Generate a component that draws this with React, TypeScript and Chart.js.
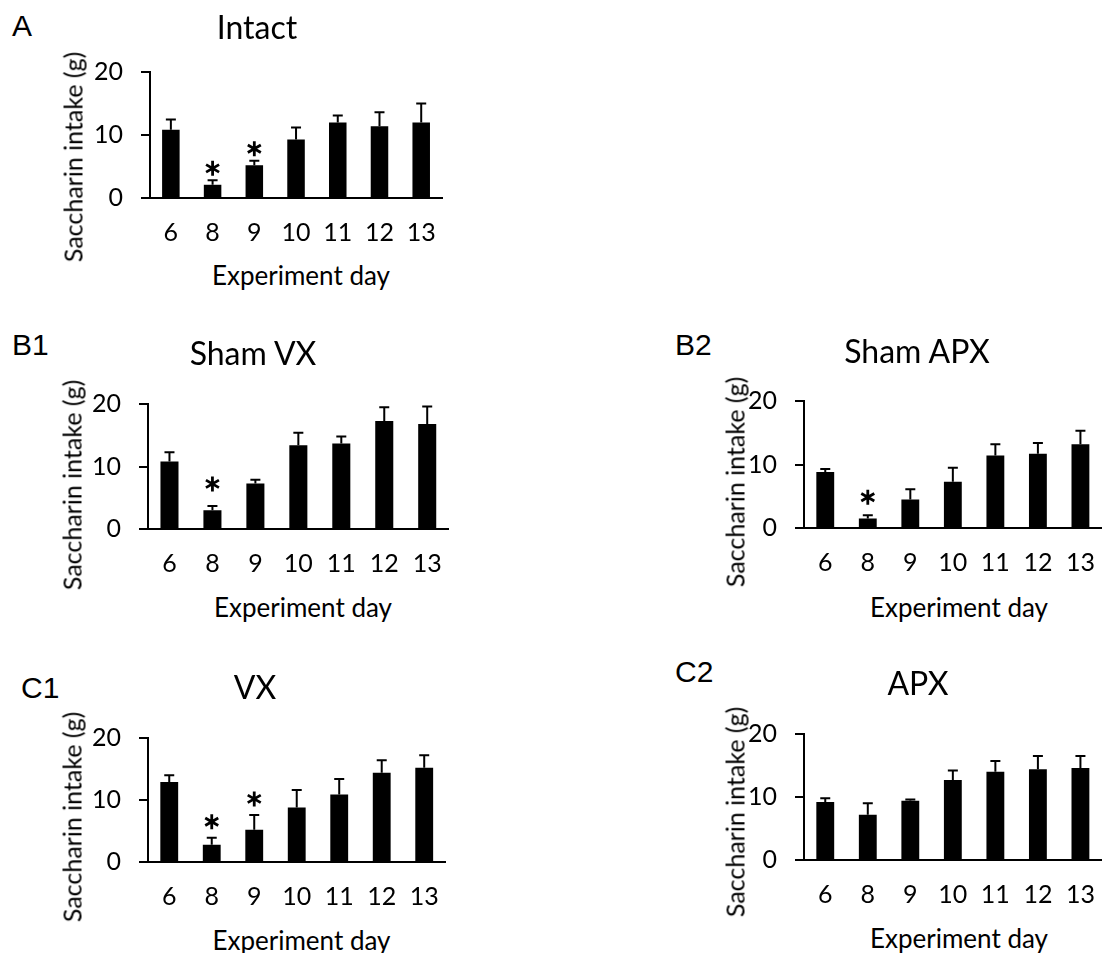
import React, { useEffect, useRef } from "react";
import { Chart, registerables } from "chart.js";

Chart.register(...registerables);

// ---------- data ----------
const days = ["6", "8", "9", "10", "11", "12", "13"];
const yMin = 0;
const yMax = 20;
const yStep = 10;

const intactMean = [10.85, 2.1, 5.2, 9.3, 12.0, 11.4, 12.0];
const intactSem = [1.6, 0.7, 0.7, 1.9, 1.1, 2.2, 3.0];
const intactSig = [false, true, true, false, false, false, false];

const shamVxMean = [10.8, 3.0, 7.3, 13.4, 13.7, 17.3, 16.8];
const shamVxSem = [1.5, 0.7, 0.6, 2.0, 1.1, 2.2, 2.8];
const shamVxSig = [false, true, false, false, false, false, false];

const shamApxMean = [8.8, 1.5, 4.5, 7.3, 11.4, 11.7, 13.2];
const shamApxSem = [0.5, 0.5, 1.6, 2.2, 1.8, 1.7, 2.1];
const shamApxSig = [false, true, false, false, false, false, false];

const vxMean = [12.9, 2.8, 5.2, 8.8, 10.9, 14.4, 15.2];
const vxSem = [1.1, 1.1, 2.4, 2.8, 2.5, 2.0, 2.0];
const vxSig = [false, true, true, false, false, false, false];

const apxMean = [9.2, 7.2, 9.4, 12.7, 14.0, 14.4, 14.6];
const apxSem = [0.6, 1.8, 0.2, 1.5, 1.7, 2.1, 1.9];
const apxSig = [false, false, false, false, false, false, false];

const yAxisTitle = "Saccharin intake (g)";
const xAxisTitle = "Experiment day";

// ---------- layout ----------
type Box = { left: number; right: number; top: number; bottom: number };
type PanelDef = {
  letter: string;
  title: string;
  mean: number[];
  sem: number[];
  sig: boolean[];
  area: Box;
  letterX: number;
  letterY: number;
  titleX: number;
  titleY: number;
  yTitleX: number;
  yTitleY: number;
  xTitleY: number;
  starGap: number;
  padRight: number;
};

const panels: PanelDef[] = [
  {
    letter: "A", title: "Intact", mean: intactMean, sem: intactSem, sig: intactSig,
    area: { left: 150, right: 452, top: 72, bottom: 198 },
    letterX: 12, letterY: 26, titleX: 257, titleY: 27,
    yTitleX: 73, yTitleY: 157, xTitleY: 275, starGap: 12, padRight: 4,
  },
  {
    letter: "B1", title: "Sham VX", mean: shamVxMean, sem: shamVxSem, sig: shamVxSig,
    area: { left: 148, right: 458, top: 404, bottom: 529 },
    letterX: 12, letterY: 345, titleX: 253, titleY: 353,
    yTitleX: 72, yTitleY: 485, xTitleY: 607, starGap: 22, padRight: 4,
  },
  {
    letter: "B2", title: "Sham APX", mean: shamApxMean, sem: shamApxSem, sig: shamApxSig,
    area: { left: 804, right: 1114, top: 401, bottom: 528 },
    letterX: 675, letterY: 345, titleX: 917, titleY: 351,
    yTitleX: 735, yTitleY: 482, xTitleY: 607, starGap: 18, padRight: 1,
  },
  {
    letter: "C1", title: "VX", mean: vxMean, sem: vxSem, sig: vxSig,
    area: { left: 148, right: 455, top: 738, bottom: 862 },
    letterX: 21, letterY: 688, titleX: 255, titleY: 687,
    yTitleX: 72, yTitleY: 817, xTitleY: 940, starGap: 16, padRight: 4,
  },
  {
    letter: "C2", title: "APX", mean: apxMean, sem: apxSem, sig: apxSig,
    area: { left: 804, right: 1114, top: 734, bottom: 860 },
    letterX: 675, letterY: 672, titleX: 918, titleY: 683,
    yTitleX: 735, yTitleY: 812, xTitleY: 938, starGap: 16, padRight: 1,
  },
];

const FONT = "Lato, 'Open Sans', sans-serif";
const LETTER_FONT = "'Liberation Sans', Arial, sans-serif";
const TICK_SIZE = 25;
const Y_SCALE_W = 80;
const PAD_TOP = 38;
const X_SCALE_H = 55;

const errorBarPlugin = {
  id: "errorBars",
  afterDatasetsDraw(chart: any, _args: any, opts: any) {
    const { ctx } = chart;
    const yScale = chart.scales.y;
    const meta = chart.getDatasetMeta(0);
    const mean: number[] = opts.mean;
    const sem: number[] = opts.sem;
    const sig: boolean[] = opts.sig;
    ctx.save();
    ctx.strokeStyle = "#000";
    ctx.lineWidth = 2;
    ctx.lineCap = "butt";
    meta.data.forEach((bar: any, i: number) => {
      const x = bar.x;
      const y0 = yScale.getPixelForValue(mean[i]);
      const y1 = yScale.getPixelForValue(mean[i] + sem[i]);
      ctx.beginPath();
      ctx.moveTo(x, y0);
      ctx.lineTo(x, y1);
      ctx.moveTo(x - 5, y1);
      ctx.lineTo(x + 5, y1);
      ctx.stroke();
      if (sig[i]) {
        const cy = y1 - opts.starGap;
        const r = 7.5;
        ctx.lineWidth = 2.8;
        ctx.beginPath();
        for (let k = 0; k < 3; k++) {
          const a = Math.PI / 2 + (k * Math.PI) / 3;
          ctx.moveTo(x + r * Math.cos(a), cy + r * Math.sin(a));
          ctx.lineTo(x - r * Math.cos(a), cy - r * Math.sin(a));
        }
        ctx.stroke();
        ctx.lineWidth = 2;
      }
    });
    ctx.restore();
  },
};

function Panel({ p }: { p: PanelDef }) {
  const ref = useRef<HTMLCanvasElement | null>(null);
  const canvasLeft = p.area.left - Y_SCALE_W;
  const canvasTop = p.area.top - PAD_TOP;
  const canvasW = p.area.right - canvasLeft + p.padRight;
  const canvasH = p.area.bottom - canvasTop + X_SCALE_H;

  useEffect(() => {
    if (!ref.current) return;
    const chart = new Chart(ref.current, {
      type: "bar",
      data: {
        labels: days,
        datasets: [
          {
            data: p.mean,
            backgroundColor: "#000",
            borderWidth: 0,
            categoryPercentage: 1,
            barPercentage: 0.42,
          },
        ],
      },
      plugins: [errorBarPlugin],
      options: {
        animation: false,
        responsive: false,
        maintainAspectRatio: false,
        devicePixelRatio: 1,
        layout: { padding: { left: 0, top: PAD_TOP, right: p.padRight, bottom: 0 } },
        plugins: {
          legend: { display: false },
          tooltip: { enabled: false },
          title: { display: false },
          errorBars: { mean: p.mean, sem: p.sem, sig: p.sig, starGap: p.starGap },
        } as any,
        scales: {
          x: {
            offset: true,
            grid: { display: false, drawTicks: false },
            border: { display: true, color: "#000", width: 2 },
            ticks: {
              color: "#000",
              font: { family: FONT, size: TICK_SIZE },
              padding: 20,
              maxRotation: 0,
            },
            afterFit: (s: any) => { s.height = X_SCALE_H; },
          },
          y: {
            min: yMin,
            max: yMax,
            grid: {
              drawOnChartArea: false,
              drawTicks: true,
              tickLength: 9,
              color: "#000",
              lineWidth: 2,
            },
            border: { display: true, color: "#000", width: 2 },
            ticks: {
              stepSize: yStep,
              color: "#000",
              font: { family: FONT, size: TICK_SIZE },
              padding: 18,
            },
            afterFit: (s: any) => { s.width = Y_SCALE_W; },
          },
        },
      } as any,
    });
    return () => chart.destroy();
  }, []);

  const cx = (p.area.left + p.area.right) / 2;
  return (
    <>
      <canvas
        ref={ref}
        width={canvasW}
        height={canvasH}
        style={{ position: "absolute", left: canvasLeft, top: canvasTop, width: canvasW, height: canvasH }}
      />
      <div style={{ position: "absolute", left: p.letterX, top: p.letterY, transform: "translateY(-50%)", fontFamily: LETTER_FONT, fontSize: 30, lineHeight: 1, color: "#000", whiteSpace: "nowrap" }}>
        {p.letter}
      </div>
      <div style={{ position: "absolute", left: p.titleX, top: p.titleY, transform: "translate(-50%,-50%)", fontFamily: FONT, fontSize: 32, lineHeight: 1, color: "#000", whiteSpace: "nowrap" }}>
        {p.title}
      </div>
      <div style={{ position: "absolute", left: p.yTitleX, top: p.yTitleY, transform: "translate(-50%,-50%) rotate(-90deg)", fontFamily: FONT, fontSize: 25, lineHeight: 1, color: "#000", whiteSpace: "nowrap" }}>
        {yAxisTitle}
      </div>
      <div style={{ position: "absolute", left: cx, top: p.xTitleY, transform: "translate(-50%,-50%)", fontFamily: FONT, fontSize: 26, lineHeight: 1, color: "#000", whiteSpace: "nowrap" }}>
        {xAxisTitle}
      </div>
    </>
  );
}

export default function App() {
  return (
    <div style={{ position: "absolute", left: 0, top: 0, width: 1115, height: 953, background: "#fff", overflow: "hidden" }}>
      {panels.map((p) => (
        <Panel key={p.letter} p={p} />
      ))}
    </div>
  );
}
